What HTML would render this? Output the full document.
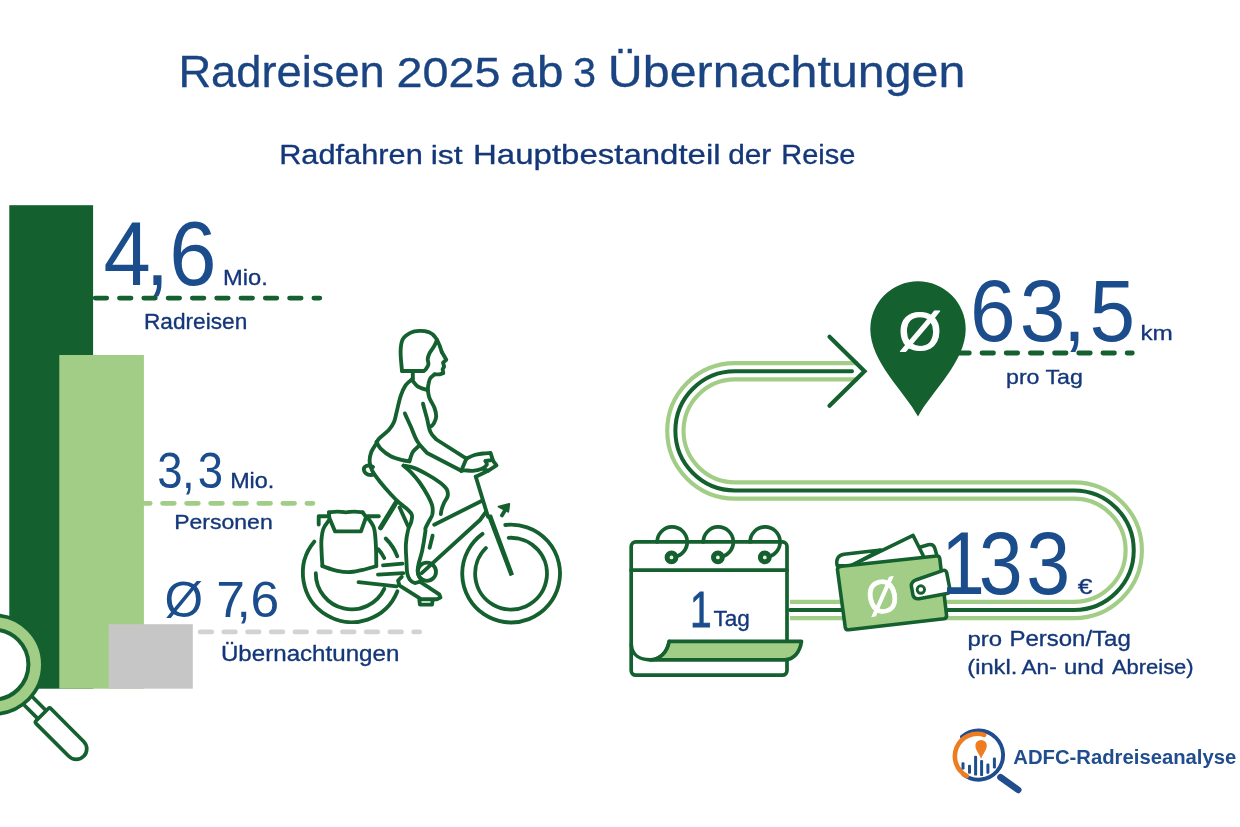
<!DOCTYPE html>
<html lang="de"><head><meta charset="utf-8"><title>Radreisen 2025 ab 3 Übernachtungen</title>
<style>
html,body{margin:0;padding:0;background:#fff;}
body{width:1240px;height:827px;overflow:hidden;}
svg{display:block;font-family:"Liberation Sans",sans-serif;}
</style></head><body>
<svg width="1240" height="827" viewBox="0 0 1240 827">
<rect width="1240" height="827" fill="#fff"/>
<rect x="9.3" y="205.2" width="83.8" height="483.5" fill="#14602f"/>
<rect x="59.3" y="355" width="84.6" height="333.7" fill="#a2cd86"/>
<rect x="108.6" y="624.2" width="84.2" height="64.5" fill="#c6c6c6"/>
<path d="M95.2 298.1H319.8" stroke="#14602f" stroke-width="4.8" stroke-linecap="round" stroke-dasharray="11.5 12.8" fill="none"/>
<path d="M138.5 503.3H312.9" stroke="#a2cd86" stroke-width="4.8" stroke-linecap="round" stroke-dasharray="11.7 12.36" fill="none"/>
<path d="M200.1 631.9H419.6" stroke="#d2d2d2" stroke-width="4.8" stroke-linecap="round" stroke-dasharray="11.55 12.18" fill="none"/>
<path d="M957.8 353H1132.3" stroke="#14602f" stroke-width="4.8" stroke-linecap="round" stroke-dasharray="11.5 12.69" fill="none"/>
<path d="M858 371.25H735A59.6 59.6 0 0 0 735 490.5H1074A59.75 59.75 0 0 1 1074 610H790" stroke="#a2cd86" stroke-width="20.4" fill="none"/>
<path d="M860 371.25H735A59.6 59.6 0 0 0 735 490.5H1074A59.75 59.75 0 0 1 1074 610H788" stroke="#fff" stroke-width="12.2" fill="none"/>
<path d="M852 371.25H735A59.6 59.6 0 0 0 735 490.5H1074A59.75 59.75 0 0 1 1074 610H790" stroke="#14602f" stroke-width="4" stroke-linecap="round" fill="none"/>
<path d="M829.5 336.75L864.5 371.25L829.5 405.75" stroke="#14602f" stroke-width="4.2" stroke-linecap="round" stroke-linejoin="miter" fill="none"/>
<path d="M918 416.6C905 392 870.3 362 870.3 329A47.7 47.7 0 0 1 965.7 329C965.7 362 931 392 918 416.6Z" fill="#14602f"/>
<g fill="none" stroke="#14602f" stroke-width="3.85" stroke-linecap="round" stroke-linejoin="round">
<path d="M314.4 541.6A49.0 49.0 0 1 0 397.4 591.3"/>
<path d="M315.8 573.2A36.0 36.0 0 0 0 384.3 588.8"/>
<path d="M385.7 538.5A48.6 48.6 0 0 1 397.3 556.3"/>
<path d="M378.4 549.4A35.8 35.8 0 0 1 384.2 558.0"/>
<path d="M505.3 525.0A48.9 48.9 0 1 1 482.5 533.9"/>
<path d="M508.7 537.8A35.9 35.9 0 1 1 485.9 548.0"/>
<path d="M434.2 524.7L482.5 500.5"/>
<path d="M421.7 573.2L480.0 520.0L485.9 512.0"/>
<path d="M475.8 476.7L488.0 516.8"/>
<path d="M475.8 476.7L488.0 470.8"/>
<path d="M432.6 535.7L429.6 547.8"/>
<path d="M383.0 565.3L402.5 563.6"/>
<path d="M378.0 574.6L403.3 573.2"/>
<path d="M358.5 582.2L396.6 586.4"/>
<path d="M399.6 507.5L408.1 526.2"/>
<path d="M417.8 571.8a9.1 9.1 0 1 0 18.2 0a9.1 9.1 0 1 0 -18.2 0"/>
<path d="M328.9 512.3C330.3 512.2 334.5 511.6 337.3 511.6C340.1 511.6 343.0 512.3 345.8 512.3C348.6 512.3 351.4 511.6 354.3 511.6C357.1 511.6 361.3 512.2 362.7 512.3"/>
<path d="M328.9 512.3L329.4 517.9L335.1 531.4L361.0 531.4L366.1 517.0L362.7 512.3"/>
<path d="M318.7 524.6L318.7 516.2L328.3 516.2"/>
<path d="M367.5 516.2L378.8 516.2"/>
<path d="M328.9 520.4C328.0 521.8 324.7 525.5 323.4 528.9C322.2 532.2 321.7 536.5 321.4 540.7C321.1 544.9 321.6 550.0 321.7 554.3C321.9 558.5 322.3 564.1 322.4 566.1"/>
<path d="M322.4 566.1C324.9 566.9 332.6 569.9 337.3 570.8C342.1 571.8 346.4 572.3 350.9 572.0C355.4 571.8 360.2 570.5 364.4 569.5C368.6 568.5 374.3 566.7 376.3 566.1"/>
<path d="M376.3 566.1C376.2 562.7 376.3 552.0 375.9 545.8C375.6 539.6 375.2 532.9 374.2 528.9C373.3 524.8 371.5 523.2 370.3 521.2C369.1 519.3 367.5 518.0 366.9 517.3"/>
<path d="M402.0 371.0C401.8 367.9 400.5 357.4 400.6 352.1C400.7 346.8 401.0 342.6 402.7 339.4C404.4 336.1 408.0 334.0 410.8 332.6C413.6 331.2 416.3 331.0 419.3 330.9C422.2 330.8 425.9 331.1 428.6 332.1C431.2 333.2 433.6 335.1 435.3 337.2C437.1 339.2 438.2 342.0 439.2 344.5C440.3 347.0 441.3 350.8 441.8 352.1"/>
<path d="M441.8 352.1L446.3 359.7L443.0 362.6L444.1 366.5L442.6 369.4L443.3 373.2L439.6 374.4L434.5 374.4"/>
<path d="M434.5 374.4C433.8 375.1 431.2 376.8 430.3 378.3C429.3 379.8 429.0 381.5 428.6 383.4C428.1 385.3 427.9 388.6 427.7 389.7"/>
<path d="M437.0 339.9C436.5 340.9 435.4 344.0 434.1 346.2C432.9 348.3 430.8 350.8 429.7 352.9C428.7 355.0 427.9 357.0 427.7 358.9C427.5 360.7 428.7 362.6 428.4 364.3C428.1 366.0 426.8 367.9 426.0 369.0C425.3 370.1 424.3 370.7 424.0 371.0L402.0 371.0"/>
<path d="M412.8 371.6L412.8 378.8"/>
<path d="M411.6 379.5C412.6 380.6 414.9 384.5 417.6 386.3C420.2 388.1 426.0 389.5 427.7 390.2"/>
<path d="M412.8 378.8C411.6 379.9 407.7 382.2 405.7 385.1C403.7 388.0 402.2 391.4 400.6 396.1C399.1 400.8 397.5 408.7 396.4 413.0C395.3 417.4 395.1 419.5 393.9 422.3C392.6 425.2 391.2 427.3 388.8 430.0C386.4 432.6 381.4 436.1 379.5 438.1C377.5 440.1 377.4 441.2 376.9 441.8"/>
<path d="M427.7 389.7C428.0 391.0 428.3 394.7 429.4 397.8C430.5 400.8 433.4 404.8 434.5 408.0C435.6 411.1 436.3 413.9 436.2 416.4C436.1 419.0 434.8 421.6 434.0 423.2C433.2 424.8 431.9 425.6 431.4 426.1"/>
<path d="M404.9 413.4C405.8 415.6 408.7 421.8 410.8 426.6C412.9 431.3 414.8 437.4 417.6 441.8C420.3 446.2 425.5 451.1 427.1 453.0L461.3 470.8"/>
<path d="M423.0 403.7C423.6 406.1 425.7 413.5 426.9 418.1C428.1 422.8 428.7 428.1 430.3 431.7C431.8 435.2 435.4 438.2 436.4 439.5L466.4 458.6"/>
<path d="M466.4 458.6L461.3 470.8"/>
<path d="M466.4 458.6C467.7 458.0 471.7 455.9 474.5 455.0C477.3 454.2 480.3 453.9 483.0 453.5C485.6 453.2 489.3 453.1 490.6 453.0L492.8 459.8 L485.5 461.0"/>
<path d="M485.5 461.0C485.7 461.6 487.4 463.5 486.7 464.9C486.0 466.2 483.6 468.1 481.3 469.1C478.9 470.1 475.6 470.6 472.8 470.8C470.0 471.0 466.2 470.3 464.3 470.3C462.4 470.3 461.8 470.7 461.3 470.8"/>
<path d="M492.3 459.8L496.5 465.4L488.0 470.8L483.8 469.1"/>
<path d="M376.4 441.9C377.1 443.0 378.2 446.2 380.6 448.6C383.0 451.0 387.1 454.3 390.8 456.2C394.5 458.2 399.5 459.3 402.6 460.1C405.7 461.0 408.3 461.1 409.4 461.3"/>
<path d="M409.4 461.3C410.0 459.8 411.2 454.5 412.8 452.0C414.3 449.5 417.7 447.1 418.7 446.1"/>
<path d="M376.4 443.5C375.6 445.0 372.4 449.0 371.3 452.0C370.2 455.0 369.5 458.2 369.6 461.3C369.8 464.4 370.3 467.1 372.2 470.6C374.0 474.2 377.5 478.5 380.6 482.5C383.7 486.4 387.7 490.9 390.8 494.3C393.9 497.7 396.4 500.3 399.3 502.8C402.1 505.3 405.6 507.5 407.7 509.6C409.8 511.6 411.4 512.9 411.9 515.0C412.5 517.1 411.7 519.8 411.1 522.3C410.5 524.7 408.9 526.2 408.1 529.9C407.2 533.5 406.2 539.2 405.9 544.2C405.6 549.2 406.1 555.1 406.4 559.9C406.6 564.7 406.7 570.0 407.2 573.2C407.8 576.4 408.4 577.6 409.6 579.3C410.8 580.9 412.7 582.5 414.5 582.9C416.2 583.3 419.0 581.9 419.9 581.7"/>
<path d="M373.0 466.9C367.9 463.9 362.9 466.4 364.0 470.6C365.1 474.9 370.5 475.7 373.9 474.4"/>
<path d="M403.5 465.6C405.3 466.0 410.4 466.5 414.5 468.1C418.6 469.6 423.8 472.5 428.0 474.9C432.3 477.3 436.8 480.1 439.9 482.5C443.0 484.9 445.4 487.0 446.7 489.3C447.9 491.5 448.1 493.8 447.7 496.0C447.2 498.3 445.1 500.5 444.1 502.8C443.1 505.1 442.1 507.7 441.6 509.6C441.0 511.5 441.0 513.4 440.9 514.1"/>
<path d="M403.5 465.6C404.8 466.7 408.4 469.5 411.1 472.3C413.8 475.1 416.7 478.5 419.6 482.5C422.4 486.4 425.9 492.1 428.0 496.0C430.1 500.0 431.6 503.1 432.3 506.2C433.0 509.3 432.8 512.1 432.3 514.6C431.7 517.2 430.0 519.2 428.9 521.4C427.7 523.7 426.1 526.4 425.5 528.2C424.9 530.0 425.9 528.4 425.3 532.1C424.8 535.8 423.4 545.0 422.3 550.2C421.2 555.5 419.5 560.1 418.7 563.5C417.9 567.0 417.6 568.6 417.7 570.8C417.8 573.0 418.5 575.2 419.3 576.8C420.1 578.4 421.8 579.9 422.3 580.5"/>
<path d="M419.9 581.7C421.3 582.6 425.1 585.0 428.4 587.1C431.6 589.2 437.4 593.2 439.3 594.4L440.5 597.4L436.8 599.2L421.1 599.2L399.3 585.3L398.1 580.5L401.8 576.8"/>
<path d="M419.3 599.8L419.9 604.6L432.0 604.6L432.6 600.8"/>
<path d="M395.9 502.8L380.6 527.8" stroke-width="5"/>
<path d="M487.6 515.4L491.3 515.4L513.0 574.1L510.2 575.2Z" fill="#14602f" stroke-width="1.6"/>
<path d="M498.6 506.6L509.2 503.9L508.2 511.7Z" fill="#14602f" stroke-width="2"/>
<path d="M504.5 511.2L501.9 515.4"/>
</g>
<g stroke="#14602f" stroke-linecap="round" stroke-linejoin="round">
<g transform="translate(42.15,714.8) rotate(45)" fill="#fff" stroke-width="3.7">
<path d="M-19 -5.8H0M-19 5.8H0" fill="none"/>
<path d="M2 -10.5H48.2A10.5 10.5 0 0 1 48.2 10.5H2Q0 10.5 0 8.5V-8.5Q0 -10.5 2 -10.5Z"/>
</g>
<circle cx="-6.5" cy="664.6" r="49.35" fill="#a2cd86" stroke-width="3.7"/>
<circle cx="-6.5" cy="664.6" r="34.9" fill="#fff" stroke-width="4"/>
</g>
<g stroke="#14602f" stroke-width="3.7" stroke-linecap="round" stroke-linejoin="round" fill="none">
<rect x="631.2" y="541.9" width="155.8" height="133.3" rx="4.6" fill="#fff"/>
<path d="M631.2 570.2H787"/>
<path d="M631.3 644.5C631.8 655 640 659.8 650.6 659.8C660 659.8 667.5 652 669.2 641.3" fill="#fff"/>
<path d="M669.2 641.3H801.5C800 652 794 659.8 784.5 659.8H650.6C660 659.8 667.5 652 669.2 641.3Z" fill="#a2cd86"/>
<path d="M657.2 541.9A15 15 0 1 1 673.2 556.9"/>
<circle cx="671.5" cy="557.4" r="4.4" fill="#e9f3e2" stroke-width="5"/>
<path d="M703.3 541.9A15 15 0 1 1 719.3 556.9"/>
<circle cx="717.9" cy="557.4" r="4.4" fill="#e9f3e2" stroke-width="5"/>
<path d="M750.1 541.9A15 15 0 1 1 766.1 556.9"/>
<circle cx="764.8" cy="557.4" r="4.4" fill="#e9f3e2" stroke-width="5"/>
</g>
<g transform="translate(820,510) scale(0.16921)" stroke="#14602f" stroke-width="21" stroke-linecap="round" stroke-linejoin="round" fill="#fff">
<path d="M575 225L640 205Q670 198 678 225L700 300L600 320Z"/>
<path d="M102 330C92 290 108 268 142 262L360 236L185 330Z"/>
<path d="M180 330L550 150L620 290L300 340Z"/>
<path d="M128 333L688 272Q706 270 708 288L748 622Q750 640 732 643L170 708Q152 710 149 692L103 352Q102 336 128 333Z" fill="#a2cd86"/>
<path d="M570 412L725 358Q745 352 749 372L768 470Q771 490 751 494L585 524Q560 528 550 505L540 450Q538 425 570 412Z"/>
<circle cx="596" cy="470" r="22" stroke-width="17"/>
</g>
<g fill="none" stroke-linecap="round">
<path d="M1000.5 777.2L1018.2 789.9" stroke="#1f4d8d" stroke-width="6.6"/>
<path d="M962.0 736.8A24.6 24.6 0 1 1 963.4 774.5" stroke="#1f4d8d" stroke-width="3.9"/>
<path d="M966.8 776.0A22.4 22.4 0 0 1 984.2 734.9" stroke="#ee7d22" stroke-width="4.6"/>
</g>
<rect x="961.5" y="762.3" width="3" height="7.3" rx="1.2" fill="#1f4d8d"/>
<rect x="968.0" y="764.8" width="3" height="8.9" rx="1.2" fill="#1f4d8d"/>
<rect x="974.1" y="755.8" width="3" height="19.8" rx="1.2" fill="#1f4d8d"/>
<rect x="980.1" y="759.9" width="3" height="16.2" rx="1.2" fill="#1f4d8d"/>
<rect x="986.4" y="763.5" width="3" height="10.2" rx="1.2" fill="#1f4d8d"/>
<rect x="992.9" y="757.5" width="3" height="10.9" rx="1.2" fill="#1f4d8d"/>
<path d="M981.1 758.9C979 753.5 975.4 750.2 975.4 745.6A5.7 5.7 0 0 1 986.8 745.6C986.8 750.2 983.2 753.5 981.1 758.9Z" fill="#ee7d22"/>

<text transform="translate(178.38,87.40) scale(0.2265,0.2174)" font-size="200" fill="#1a4482" stroke="#1a4482" stroke-width="1.35" stroke-linejoin="round">Radreisen</text>
<text transform="translate(396.46,87.40) scale(0.2340,0.2143)" font-size="200" fill="#1a4482" stroke="#1a4482" stroke-width="1.34" stroke-linejoin="round">2025</text>
<text transform="translate(510.39,87.40) scale(0.2383,0.2172)" font-size="200" fill="#1a4482" stroke="#1a4482" stroke-width="1.32" stroke-linejoin="round">ab</text>
<text transform="translate(572.94,87.40) scale(0.2074,0.2143)" font-size="200" fill="#1a4482" stroke="#1a4482" stroke-width="1.42" stroke-linejoin="round">3</text>
<text transform="translate(607.87,87.40) scale(0.2418,0.2174)" font-size="200" fill="#1a4482" stroke="#1a4482" stroke-width="1.31" stroke-linejoin="round">Übernachtungen</text>
<text transform="translate(279.14,164.30) scale(0.1538,0.1399)" font-size="200" fill="#14377a" stroke="#14377a" stroke-width="2.39" stroke-linejoin="round">Radfahren</text>
<text transform="translate(430.63,164.30) scale(0.1595,0.1331)" font-size="200" fill="#14377a" stroke="#14377a" stroke-width="2.40" stroke-linejoin="round">ist</text>
<text transform="translate(473.06,164.30) scale(0.1649,0.1399)" font-size="200" fill="#14377a" stroke="#14377a" stroke-width="2.30" stroke-linejoin="round">Hauptbestandteil</text>
<text transform="translate(728.21,164.30) scale(0.1491,0.1400)" font-size="200" fill="#14377a" stroke="#14377a" stroke-width="2.42" stroke-linejoin="round">der</text>
<text transform="translate(781.28,164.30) scale(0.1449,0.1399)" font-size="200" fill="#14377a" stroke="#14377a" stroke-width="2.46" stroke-linejoin="round">Reise</text>
<text transform="translate(0,285.00) scale(0.4250,0.4522)" x="243.5 342.5 398.0" font-size="200" fill="#1b4d8c">4,6</text>
<text transform="translate(223.00,285.00) scale(0.1187,0.1087)" font-size="200" fill="#14377a" stroke="#14377a" stroke-width="3.08" stroke-linejoin="round">Mio.</text>
<text transform="translate(143.99,329.30) scale(0.1133,0.1080)" font-size="200" fill="#14377a" stroke="#14377a" stroke-width="3.16" stroke-linejoin="round">Radreisen</text>
<text transform="translate(0,487.80) scale(0.2280,0.2493)" x="689.8 797.8 867.4" font-size="200" fill="#1b4d8c">3,3</text>
<text transform="translate(230.13,487.80) scale(0.1169,0.1087)" font-size="200" fill="#14377a" stroke="#14377a" stroke-width="3.10" stroke-linejoin="round">Mio.</text>
<text transform="translate(174.16,529.10) scale(0.1152,0.1014)" font-size="200" fill="#14377a" stroke="#14377a" stroke-width="3.24" stroke-linejoin="round">Personen</text>
<text transform="translate(164.56,616.90) scale(0.2482,0.2521)" font-size="200" fill="#1b4d8c">Ø</text>
<text transform="translate(0,616.80) scale(0.2580,0.2529)" x="838.1 916.9 971.4" font-size="200" fill="#1b4d8c">7,6</text>
<text transform="translate(220.89,660.60) scale(0.1207,0.1087)" font-size="200" fill="#14377a" stroke="#14377a" stroke-width="3.06" stroke-linejoin="round">Übernachtungen</text>
<text transform="translate(0,340.70) scale(0.4100,0.4379)" x="2365.6 2487.4 2593.0 2657.1" font-size="200" fill="#1b4d8c">63,5</text>
<text transform="translate(1140.42,340.30) scale(0.1216,0.1034)" font-size="200" fill="#14377a" stroke="#14377a" stroke-width="3.12" stroke-linejoin="round">km</text>
<text transform="translate(1005.99,384.10) scale(0.1160,0.1051)" font-size="200" fill="#14377a" stroke="#14377a" stroke-width="3.17" stroke-linejoin="round">pro Tag</text>
<text transform="translate(0,594.30) scale(0.3950,0.4421)" x="2382.0 2477.8 2598.1" font-size="200" fill="#1b4d8c">133</text>
<text transform="translate(1077.74,593.75) scale(0.1321,0.1071)" font-size="200" fill="#14377a" stroke="#14377a" stroke-width="2.94" stroke-linejoin="round">€</text>
<text transform="translate(967.54,645.60) scale(0.1198,0.1037)" font-size="200" fill="#14377a" stroke="#14377a" stroke-width="3.14" stroke-linejoin="round">pro</text>
<text transform="translate(1009.38,645.60) scale(0.1201,0.1072)" font-size="200" fill="#14377a" stroke="#14377a" stroke-width="3.08" stroke-linejoin="round">Person/Tag</text>
<text transform="translate(967.28,674.30) scale(0.1186,0.1041)" font-size="200" fill="#14377a" stroke="#14377a" stroke-width="3.15" stroke-linejoin="round">(inkl.</text>
<text transform="translate(1021.50,674.30) scale(0.1132,0.1051)" font-size="200" fill="#14377a" stroke="#14377a" stroke-width="3.21" stroke-linejoin="round">An-</text>
<text transform="translate(1063.94,674.30) scale(0.1199,0.1041)" font-size="200" fill="#14377a" stroke="#14377a" stroke-width="3.13" stroke-linejoin="round">und</text>
<text transform="translate(1111.90,674.30) scale(0.1098,0.1051)" font-size="200" fill="#14377a" stroke="#14377a" stroke-width="3.26" stroke-linejoin="round">Abreise)</text>
<text transform="translate(689.9,626.6) scale(0.195,0.2536)" font-size="200" fill="#1b4d8c" stroke="#1b4d8c" stroke-width="3">1</text>
<text transform="translate(713.55,626.20) scale(0.1128,0.1072)" font-size="200" fill="#14377a" stroke="#14377a" stroke-width="3.18" stroke-linejoin="round">Tag</text>
<text transform="translate(1013.29,764.00) scale(0.1014,0.1000)" font-size="200" fill="#1f4d8d" font-weight="700">ADFC-Radreiseanalyse</text>
<text transform="translate(898.56,349.50) scale(0.2766,0.2714)" font-size="200" fill="#fff" stroke="#fff" stroke-width="4.01" stroke-linejoin="round">Ø</text>
<text transform="rotate(-12,882.3,596.3) translate(866.36,612.80) scale(0.2057,0.2357)" font-size="200" fill="#fff" stroke="#fff" stroke-width="4.09" stroke-linejoin="round">Ø</text>

</svg>
</body></html>
